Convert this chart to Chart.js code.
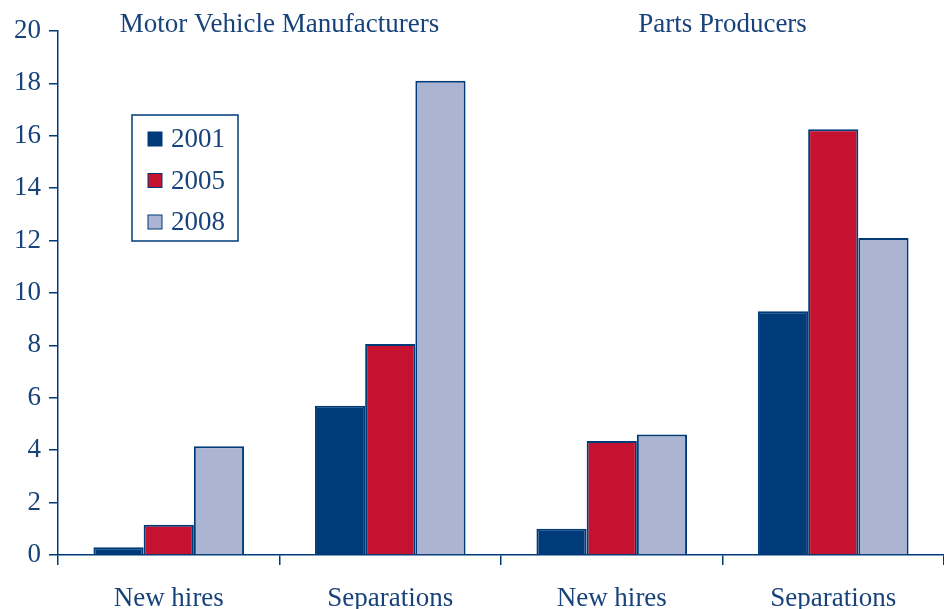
<!DOCTYPE html>
<html>
<head>
<meta charset="utf-8">
<script src="https://cdn.jsdelivr.net/npm/chart.js@4.4.1/dist/chart.umd.min.js"></script>
<style>
  html, body { margin: 0; padding: 0; background: #fff; }
  #wrap { width: 944px; height: 609px; position: relative; }
</style>
</head>
<body>
<div id="wrap"><canvas id="myChart"></canvas></div>
<script>
// categories and groups
var categories = ["New hires", "Separations", "New hires", "Separations"];
var groupLabels = ["Motor Vehicle Manufacturers", "Parts Producers"];
var years = ["2001", "2005", "2008"];

// series values (percent)
var values2001 = [0.3, 5.7, 1.0, 9.3];
var values2005 = [1.15, 8.05, 4.35, 16.25];
var values2008 = [4.15, 18.1, 4.6, 12.1];

var navy = "#003b79";
var red = "#c41230";
var lightBlue = "#abb5d3";
var textColor = "#17427a";
var fontFamily = "'Liberation Serif', 'Times New Roman', serif";
var fontSize = 27;

// group titles over each pair of categories
var groupTitles = {
  id: "groupTitles",
  afterDraw: function(chart) {
    var ctx = chart.ctx;
    var x = chart.scales.x;
    ctx.save();
    ctx.fillStyle = textColor;
    ctx.font = fontSize + "px " + fontFamily;
    ctx.textAlign = "center";
    ctx.textBaseline = "middle";
    ctx.fillText(groupLabels[0], x.getPixelForValue(0.5), 25);
    ctx.fillText(groupLabels[1], x.getPixelForValue(2.5), 25);
    ctx.restore();
  }
};

// boxed legend inside the plot
var boxLegend = {
  id: "boxLegend",
  afterDraw: function(chart) {
    var ctx = chart.ctx;
    var left = 132, top = 115, w = 106, h = 126;
    ctx.save();
    ctx.strokeStyle = navy;
    ctx.lineWidth = 1.5;
    ctx.strokeRect(left, top, w, h);
    ctx.font = fontSize + "px " + fontFamily;
    ctx.textBaseline = "middle";
    chart.data.datasets.forEach(function(ds, i) {
      var cy = 139 + i * 41.5;
      ctx.fillStyle = ds.backgroundColor;
      ctx.fillRect(148, cy - 7, 14, 14);
      ctx.strokeStyle = navy;
      ctx.lineWidth = 1;
      ctx.strokeRect(148, cy - 7, 14, 14);
      ctx.fillStyle = textColor;
      ctx.fillText(ds.label, 171, cy + 1);
    });
    ctx.restore();
  }
};

function makeSet(label, data, color) {
  return {
    label: label,
    data: data,
    backgroundColor: color,
    borderColor: navy,
    borderWidth: 2,
    borderSkipped: "bottom",
    categoryPercentage: 0.68,
    barPercentage: 1.0
  };
}

var ctx = document.getElementById("myChart").getContext("2d");
var myChart = new Chart(ctx, {
  type: "bar",
  data: {
    labels: categories,
    datasets: [
      makeSet(years[0], values2001, navy),
      makeSet(years[1], values2005, red),
      makeSet(years[2], values2008, lightBlue)
    ]
  },
  options: {
    responsive: true,
    maintainAspectRatio: false,
    animation: false,
    layout: { padding: { top: 31, right: 0, left: 0, bottom: 0 } },
    plugins: {
      legend: { display: false },
      tooltip: { enabled: false }
    },
    scales: {
      x: {
        grid: {
          offset: true,
          drawOnChartArea: false,
          drawTicks: true,
          tickLength: 10,
          color: navy,
          lineWidth: 1.5
        },
        border: { color: navy, width: 1.5 },
        ticks: {
          color: textColor,
          font: { family: fontFamily, size: fontSize },
          padding: 18,
          maxRotation: 0
        },
        afterFit: function(scale) { scale.height = 54; }
      },
      y: {
        min: 0,
        max: 20,
        ticks: {
          stepSize: 2,
          color: textColor,
          font: { family: fontFamily, size: fontSize },
          padding: 8
        },
        grid: {
          drawOnChartArea: false,
          drawTicks: true,
          tickLength: 9,
          color: navy,
          lineWidth: 1.5
        },
        border: { color: navy, width: 1.5 },
        afterFit: function(scale) { scale.width = 58; }
      }
    }
  },
  plugins: [groupTitles, boxLegend]
});
</script>
</body>
</html>
